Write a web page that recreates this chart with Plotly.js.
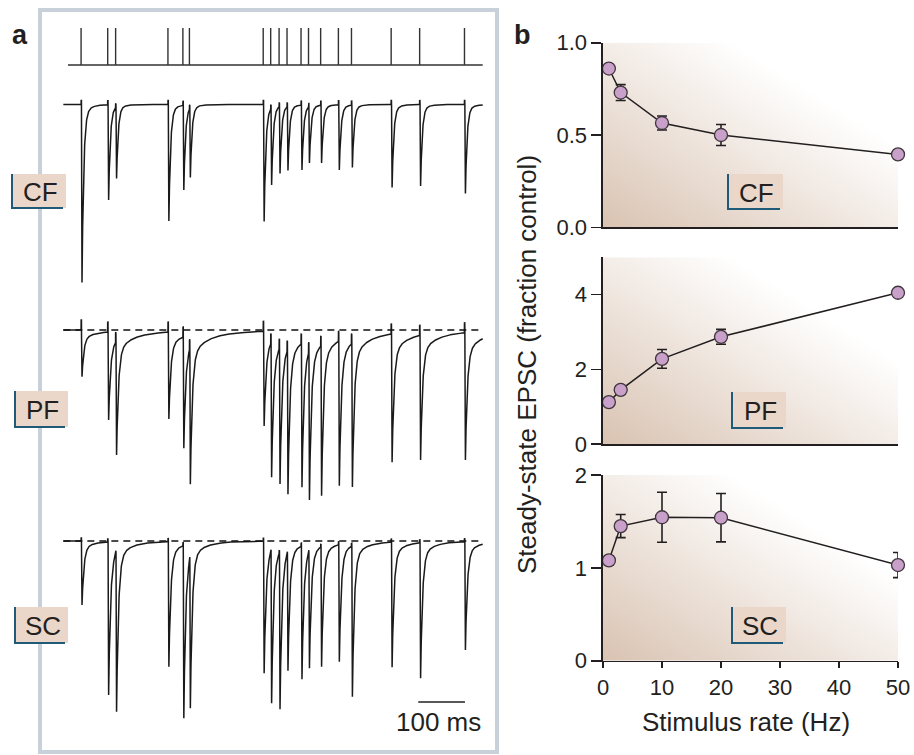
<!DOCTYPE html>
<html><head><meta charset="utf-8">
<script src="https://cdn.plot.ly/plotly-3.0.1.min.js"></script>
<style>html,body{margin:0;padding:0;background:#fff}#chart{width:914px;height:755px}</style>
</head><body><div id="chart"></div>
<script>
// ---------- Panel a data ----------
// stimulus times (ms from start of sweep)
const stimTimesMs = [28, 85, 102, 214, 246, 260, 418, 434, 452, 469, 499, 515, 541, 579, 607, 692, 753, 849];
// depth of each EPSC peak below baseline (arbitrary units)
const cfPeakDepth = [178, 95.5, 74, 116.5, 85.5, 73, 117, 80.5, 69, 66, 65.5, 58.5, 58.5, 65.5, 63, 83, 81.5, 89];
const pfPeakDepth = [46.7, 90, 125, 89, 118.3, 154.3, 96, 147.3, 154, 164.3, 157.3, 170, 165.7, 155.7, 157, 132.3, 130, 130];
const scPeakDepth = [64, 154, 170.7, 125.7, 177.3, 167.3, 132.3, 162.3, 168.3, 129.7, 138.3, 127.3, 125.7, 120.7, 155.7, 126.3, 137.3, 109];
const sweepStartMs = 0, sweepEndMs = 888, traceStartMs = -10;
const scaleBarMs = [750, 850];

// ---------- Panel b data ----------
const rateHz = [1, 3, 10, 20, 50];
const cfMean = [0.86, 0.73, 0.565, 0.50, 0.395];
const cfErr  = [0.01, 0.043, 0.038, 0.057, 0.012];
const pfMean = [1.12, 1.45, 2.28, 2.87, 4.05];
const pfErr  = [0.04, 0.05, 0.25, 0.2, 0.05];
const scMean = [1.08, 1.45, 1.545, 1.54, 1.03];
const scErr  = [0.05, 0.125, 0.27, 0.26, 0.135];

// ---------- helpers ----------
const W = 914, H = 755;
const X = px => px / W, Y = py => 1 - py / H;
const FONT = 'Liberation Sans, Arial, Helvetica, sans-serif';
const INK = '#231f20';

function epscTrace(depths, p) {
  const xs = [], ys = [];
  for (let t = traceStartMs; t <= sweepEndMs + 1e-9; t += 0.2) {
    let v = 0, art = 0;
    for (let i = 0; i < stimTimesMs.length; i++) {
      const s = t - stimTimesMs[i];
      if (s < 0) continue;
      let k;
      if (s < p.delay) { k = 0; art = p.art; }
      else if (s < p.delay + p.rise) k = (s - p.delay) / p.rise;
      else {
        const d = s - p.delay - p.rise;
        k = (1 - p.s1 - p.s2) * Math.exp(-d / p.tf) + p.s1 * Math.exp(-d / p.t1) + p.s2 * Math.exp(-d / p.t2);
      }
      v = Math.min(v, -depths[i] * k);
    }
    xs.push(t); ys.push(v + art);
  }
  return {xs, ys};
}

const cf = epscTrace(cfPeakDepth, {delay: 0.8, rise: 1.2, tf: 3.5, s1: 0.06, t1: 15, s2: 0, t2: 1, art: 4});
const pf = epscTrace(pfPeakDepth, {delay: 0.8, rise: 1.2, tf: 4, s1: 0.13, t1: 25, s2: 0.06, t2: 80, art: 10});
const sc = epscTrace(scPeakDepth, {delay: 0.8, rise: 1.2, tf: 4, s1: 0.1, t1: 22, s2: 0.02, t2: 60, art: 3});

const stimX = [sweepStartMs], stimY = [0];
stimTimesMs.forEach(t => { stimX.push(t, t, t); stimY.push(0, 1, 0); });
stimX.push(sweepEndMs); stimY.push(0);

const trLine = {color: '#1a1a1a', width: 1.5};
const dashLine = {color: '#111111', width: 1.4, dash: '7px,5px'};
const data = [
  {x: stimX, y: stimY, xaxis: 'x', yaxis: 'y2', mode: 'lines', line: {color: '#333', width: 1.4}, hoverinfo: 'skip'},
  {x: cf.xs, y: cf.ys, xaxis: 'x', yaxis: 'y3', mode: 'lines', line: trLine, hoverinfo: 'skip'},
  {x: pf.xs, y: pf.ys, xaxis: 'x', yaxis: 'y4', mode: 'lines', line: trLine, hoverinfo: 'skip'},
  {x: [traceStartMs, sweepEndMs], y: [0, 0], xaxis: 'x', yaxis: 'y4', mode: 'lines', line: dashLine, hoverinfo: 'skip'},
  {x: sc.xs, y: sc.ys, xaxis: 'x', yaxis: 'y5', mode: 'lines', line: trLine, hoverinfo: 'skip'},
  {x: [traceStartMs, sweepEndMs], y: [0, 0], xaxis: 'x', yaxis: 'y5', mode: 'lines', line: dashLine, hoverinfo: 'skip'},
];
function ptsTrace(mean, err, xa, ya) {
  return {x: rateHz, y: mean, xaxis: xa, yaxis: ya, mode: 'lines+markers', cliponaxis: false,
    line: {color: INK, width: 1.5},
    marker: {size: 13, color: '#c9a0c9', line: {color: '#3f363d', width: 1.3}},
    error_y: {type: 'data', array: err, visible: true, color: INK, thickness: 1.6, width: 5}};
}
data.push(ptsTrace(cfMean, cfErr, 'x2', 'y6'));
data.push(ptsTrace(pfMean, pfErr, 'x3', 'y7'));
data.push(ptsTrace(scMean, scErr, 'x4', 'y8'));

// panel a axes
const aDom = [X(55), X(495)];
const pxPerMs = 0.467, px0 = 68;
const aRange = [(55 - px0) / pxPerMs, (495 - px0) / pxPerMs];
const hidden = {visible: false, fixedrange: true};
// panel b axes
const bDom = [X(603), X(898)];
function yAx(dom, range, tv, tt, anchor) {
  return {domain: dom, range: range, anchor: anchor, showline: true, linecolor: INK, linewidth: 1.6,
    ticks: 'outside', ticklen: 10, tickwidth: 1.6, tickcolor: INK, tickvals: tv, ticktext: tt,
    showgrid: false, zeroline: false, tickfont: {family: FONT, size: 22, color: INK}};
}
function xAx(anchor, withTicks) {
  return {domain: bDom, range: [0, 50], anchor: anchor, showline: true, linecolor: INK, linewidth: 1.6,
    showgrid: false, zeroline: false,
    ticks: withTicks ? 'outside' : '', ticklen: 6, tickwidth: 1.6, tickcolor: INK,
    tickvals: [0, 10, 20, 30, 40, 50], showticklabels: withTicks,
    tickfont: {family: FONT, size: 22, color: INK}};
}
const cfTop = 42.7, cfBot = 227.3, pfTop = 257.3, pfBot = 444, scTop = 475, scBot = 660.7;

const layout = {
  width: W, height: H, margin: {l: 0, r: 0, t: 0, b: 0},
  paper_bgcolor: '#fff', plot_bgcolor: 'rgba(0,0,0,0)', showlegend: false,
  font: {family: FONT, color: INK},
  xaxis: Object.assign({domain: aDom, range: aRange, anchor: 'y3'}, hidden),
  yaxis2: Object.assign({domain: [Y(72), Y(20)], range: [(65 - 72) / 37, (65 - 20) / 37], anchor: 'x'}, hidden),
  yaxis3: Object.assign({domain: [Y(300), Y(90)], range: [104.5 - 300, 104.5 - 90], anchor: 'x'}, hidden),
  yaxis4: Object.assign({domain: [Y(515), Y(305)], range: [330 - 515, 330 - 305], anchor: 'x'}, hidden),
  yaxis5: Object.assign({domain: [Y(735), Y(515)], range: [541 - 735, 541 - 515], anchor: 'x'}, hidden),
  xaxis2: xAx('y6', false), xaxis3: xAx('y7', false), xaxis4: xAx('y8', true),
  yaxis6: yAx([Y(cfBot), Y(cfTop)], [0, 1], [0, 0.5, 1], ['0.0', '0.5', '1.0'], 'x2'),
  yaxis7: yAx([Y(pfBot), Y(pfTop)], [0, 5], [0, 2, 4], ['0', '2', '4'], 'x3'),
  yaxis8: yAx([Y(scBot), Y(scTop)], [0, 2], [0, 1, 2], ['0', '1', '2'], 'x4'),
  shapes: [], annotations: [], images: []
};

// gradient backgrounds of panel b
const gradSrc = 'data:image/svg+xml;charset=utf-8,' + encodeURIComponent(
  '<svg xmlns="http://www.w3.org/2000/svg" width="300" height="190" viewBox="0 0 300 190" preserveAspectRatio="none">' +
  '<defs><linearGradient id="g" x1="0" y1="1" x2="1" y2="0">' +
  '<stop offset="0" stop-color="#d9c3b2"/><stop offset="0.72" stop-color="#ffffff"/></linearGradient></defs>' +
  '<rect width="300" height="190" fill="url(#g)"/></svg>');
[[cfTop, cfBot], [pfTop, pfBot], [scTop, scBot]].forEach(([t, b]) => {
  layout.images.push({source: gradSrc, xref: 'paper', yref: 'paper', x: X(603), y: Y(t),
    sizex: X(898) - X(603), sizey: (b - t) / H, xanchor: 'left', yanchor: 'top', sizing: 'stretch', layer: 'below'});
});

// panel a frame
layout.shapes.push({type: 'rect', xref: 'paper', yref: 'paper', x0: X(40), x1: X(497), y0: Y(752), y1: Y(10),
  line: {color: '#c8d0da', width: 4}, fillcolor: 'rgba(0,0,0,0)', layer: 'below'});

// scale bar
layout.shapes.push({type: 'line', xref: 'x', yref: 'paper', x0: scaleBarMs[0], x1: scaleBarMs[1], y0: Y(702), y1: Y(702),
  line: {color: INK, width: 1.6}});
layout.annotations.push({xref: 'x', yref: 'paper', x: (scaleBarMs[0] + scaleBarMs[1]) / 2 - 6, y: Y(722), text: '100 ms',
  showarrow: false, xanchor: 'center', yanchor: 'middle', font: {family: FONT, size: 26, color: INK}});

// label boxes
function labelBox(text, l, r, t, b) {
  layout.shapes.push({type: 'rect', xref: 'paper', yref: 'paper', x0: X(l), x1: X(r), y0: Y(b), y1: Y(t),
    line: {width: 0}, fillcolor: '#ead7ca'});
  layout.shapes.push({type: 'line', xref: 'paper', yref: 'paper', x0: X(l), x1: X(l), y0: Y(b + 1), y1: Y(t),
    line: {color: '#1f5a78', width: 2}});
  layout.shapes.push({type: 'line', xref: 'paper', yref: 'paper', x0: X(l), x1: X(r - 3), y0: Y(b), y1: Y(b),
    line: {color: '#1f5a78', width: 2}});
  layout.annotations.push({xref: 'paper', yref: 'paper', x: X((l + r) / 2 + 1), y: Y((t + b) / 2 + 1), text: text,
    showarrow: false, xanchor: 'center', yanchor: 'middle', font: {family: FONT, size: 26, color: INK}});
}
labelBox('CF', 12, 66, 174, 208);
labelBox('PF', 15, 68, 391, 427);
labelBox('SC', 15, 68, 607, 643);
labelBox('CF', 728, 783, 174, 209);
labelBox('PF', 732, 786, 392, 428);
labelBox('SC', 732, 786, 607, 643);

// panel letters and titles
layout.annotations.push({xref: 'paper', yref: 'paper', x: X(20), y: Y(35), text: '<b>a</b>', showarrow: false,
  xanchor: 'center', yanchor: 'middle', font: {family: FONT, size: 27, color: INK}});
layout.annotations.push({xref: 'paper', yref: 'paper', x: X(522), y: Y(35), text: '<b>b</b>', showarrow: false,
  xanchor: 'center', yanchor: 'middle', font: {family: FONT, size: 27, color: INK}});
layout.annotations.push({xref: 'paper', yref: 'paper', x: X(746), y: Y(722), text: 'Stimulus rate (Hz)', showarrow: false,
  xanchor: 'center', yanchor: 'middle', font: {family: FONT, size: 26, color: INK}});
layout.annotations.push({xref: 'paper', yref: 'paper', x: X(527), y: Y(365), text: 'Steady-state EPSC (fraction control)',
  showarrow: false, textangle: -90, xanchor: 'center', yanchor: 'middle', font: {family: FONT, size: 26, color: INK}});

Plotly.newPlot('chart', data, layout, {staticPlot: true, displayModeBar: false});
</script>
</body></html>
